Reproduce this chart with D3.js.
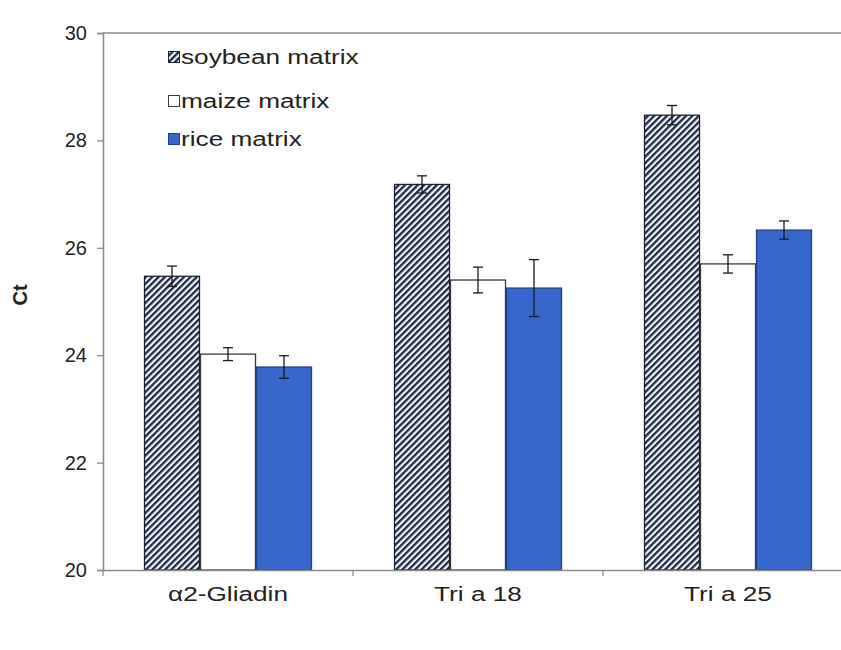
<!DOCTYPE html>
<html>
<head>
<meta charset="utf-8">
<script src="https://cdn.jsdelivr.net/npm/d3@7"></script>
<style>
  html, body { margin: 0; padding: 0; background: #fff; }
  svg { display: block; }
  text { font-family: "Liberation Sans", Arial, sans-serif; fill: #222; }
</style>
</head>
<body>
<svg id="chart" width="841" height="650"></svg>
<script>
// Ct values per target gene and matrix (mean ± SD)
const categories = ["α2-Gliadin", "Tri a 18", "Tri a 25"];
const seriesNames = ["soybean matrix", "maize matrix", "rice matrix"];
const soybean = [25.47, 27.18, 28.47];
const soybeanErr = [0.19, 0.16, 0.18];
const maize = [24.02, 25.40, 25.70];
const maizeErr = [0.12, 0.24, 0.17];
const rice = [23.78, 25.25, 26.33];
const riceErr = [0.21, 0.53, 0.17];
const yTicks = [20, 22, 24, 26, 28, 30];
const yLabel = "Ct";

const series = [
  { name: seriesNames[0], values: soybean, errs: soybeanErr, key: "soy" },
  { name: seriesNames[1], values: maize, errs: maizeErr, key: "maize" },
  { name: seriesNames[2], values: rice, errs: riceErr, key: "rice" }
];

const svg = d3.select("#chart");
const margin = { left: 103, right: 853, top: 33, bottom: 570 };
const wide = 1.31; // horizontal stretch of legend and category text

// hatch pattern for the soybean bars
const hp = 4.5;
const defs = svg.append("defs");
const pat = defs.append("pattern")
  .attr("id", "hatch")
  .attr("patternUnits", "userSpaceOnUse")
  .attr("width", hp).attr("height", hp)
  .attr("patternTransform", "rotate(45)");
pat.append("rect").attr("width", hp).attr("height", hp).attr("fill", "#f3f7fc");
pat.append("rect").attr("x", 0).attr("width", 2.3).attr("height", hp).attr("fill", "#1c2a46");

const style = {
  soy:   { fill: "url(#hatch)", stroke: "#1c2236" },
  maize: { fill: "#ffffff", stroke: "#3a3a3a" },
  rice:  { fill: "#3867cc", stroke: "#21408a" }
};

const x0 = d3.scaleBand().domain(categories).range([margin.left, margin.right]).paddingInner(0).paddingOuter(0);
const x1 = d3.scaleBand().domain(series.map(s => s.key)).range([0, x0.bandwidth()]).paddingInner(0).paddingOuter(0.732);
const y = d3.scaleLinear().domain([20, 30]).range([margin.bottom, margin.top]);

// plot-area top edge
svg.append("line")
  .attr("x1", margin.left).attr("x2", margin.right)
  .attr("y1", y(30)).attr("y2", y(30))
  .attr("stroke", "#8c8c8c").attr("stroke-width", 1.5);

// bars
const groups = svg.append("g").selectAll("g")
  .data(categories)
  .join("g")
  .attr("transform", c => `translate(${x0(c)},0)`);

series.forEach(s => {
  groups.append("rect")
    .attr("x", x1(s.key) + 0.5)
    .attr("width", x1.bandwidth() - 1)
    .attr("y", (c, i) => y(s.values[i]))
    .attr("height", (c, i) => y(20) - y(s.values[i]))
    .attr("fill", style[s.key].fill)
    .attr("stroke", style[s.key].stroke)
    .attr("stroke-width", 1.3);
});

// error bars
series.forEach(s => {
  const eg = groups.append("g").attr("stroke", "#1a1a1a").attr("stroke-width", 1.3);
  const cx = x1(s.key) + x1.bandwidth() / 2;
  eg.append("line")
    .attr("x1", cx).attr("x2", cx)
    .attr("y1", (c, i) => y(s.values[i] + s.errs[i]))
    .attr("y2", (c, i) => y(s.values[i] - s.errs[i]));
  [1, -1].forEach(sign => {
    eg.append("line")
      .attr("x1", cx - 5).attr("x2", cx + 5)
      .attr("y1", (c, i) => y(s.values[i] + sign * s.errs[i]))
      .attr("y2", (c, i) => y(s.values[i] + sign * s.errs[i]));
  });
});

// y axis
const yAxis = svg.append("g")
  .attr("transform", `translate(${margin.left},0)`)
  .call(d3.axisLeft(y).tickValues(yTicks).tickSize(6).tickPadding(10).tickFormat(d3.format("d")));
yAxis.select(".domain").attr("stroke", "#8c8c8c").attr("stroke-width", 1.6);
yAxis.selectAll(".tick line").attr("stroke", "#8c8c8c").attr("stroke-width", 1.3);
yAxis.selectAll(".tick text").attr("font-size", 20).attr("fill", "#222")
  .style("font-family", '"Liberation Sans", Arial, sans-serif');

// x axis
const xAxis = svg.append("g")
  .attr("transform", `translate(0,${margin.bottom})`)
  .call(d3.axisBottom(x0).tickSize(0).tickPadding(17));
xAxis.select(".domain").attr("stroke", "#8c8c8c").attr("stroke-width", 1.6);
xAxis.selectAll(".tick text").attr("font-size", 20).attr("fill", "#222")
  .attr("transform", `scale(${wide},1)`)
  .style("font-family", '"Liberation Sans", Arial, sans-serif');
// category boundary ticks
svg.append("g").selectAll("line")
  .data(categories.concat([null]))
  .join("line")
  .attr("x1", (c, i) => margin.left + i * x0.bandwidth())
  .attr("x2", (c, i) => margin.left + i * x0.bandwidth())
  .attr("y1", margin.bottom).attr("y2", margin.bottom + 6)
  .attr("stroke", "#8c8c8c").attr("stroke-width", 1.3);

// y label
svg.append("text")
  .attr("transform", "translate(27,295) rotate(-90)")
  .attr("text-anchor", "middle")
  .attr("font-size", 20).attr("font-weight", "bold")
  .text(yLabel);

// legend
const legendRows = [57, 101, 139];
const legend = svg.append("g");
series.forEach((s, i) => {
  legend.append("rect")
    .attr("x", 168.5).attr("y", legendRows[i] - 5.5)
    .attr("width", 11).attr("height", 11)
    .attr("fill", style[s.key].fill)
    .attr("stroke", style[s.key].stroke).attr("stroke-width", 1);
  legend.append("text")
    .attr("transform", `translate(181,${legendRows[i]}) scale(${wide},1)`)
    .attr("dy", "0.35em")
    .attr("font-size", 20)
    .text(s.name);
});
</script>
</body>
</html>
